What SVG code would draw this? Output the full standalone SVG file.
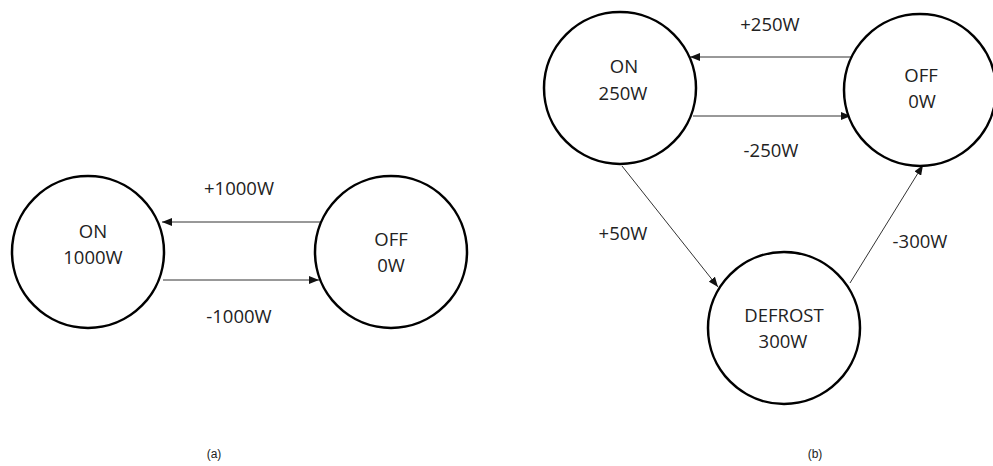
<svg xmlns="http://www.w3.org/2000/svg" width="993" height="466" viewBox="0 0 993 466">
<defs>
<style>
.node{fill:#fff;stroke:#000;stroke-width:2.5}
.t{font-family:"Open Sans","Liberation Sans",sans-serif;font-size:18.5px;fill:#222;text-anchor:middle}
.cap{font-family:"Liberation Sans Narrow","Liberation Sans",sans-serif;font-size:12px;fill:#222;text-anchor:middle}
.edge{stroke:#333;stroke-width:1;fill:none;marker-end:url(#ah)}
</style>
<marker id="ah" markerUnits="userSpaceOnUse" markerWidth="10" markerHeight="8" refX="10" refY="4" orient="auto">
<path d="M0,0 L10,4 L0,8 z" fill="#111"/>
</marker>
</defs>
<rect width="993" height="466" fill="#fff"/>
<g id="connectors">
<line class="edge" x1="321" y1="222" x2="162" y2="222"/>
<line class="edge" x1="163" y1="280" x2="319" y2="280"/>
<line class="edge" x1="852" y1="57" x2="690" y2="57"/>
<line class="edge" x1="693" y1="116" x2="851" y2="116"/>
<line class="edge" x1="622" y1="166" x2="718" y2="287"/>
<line class="edge" x1="850" y1="283" x2="923" y2="165"/>
</g>
<g id="edge-labels">
<text class="t" x="239" y="195">+1000W</text>
<text class="t" x="239" y="323">-1000W</text>
<text class="t" x="770" y="31">+250W</text>
<text class="t" x="771" y="157">-250W</text>
<text class="t" x="623" y="240">+50W</text>
<text class="t" x="920" y="248">-300W</text>
</g>
<g id="a-on">
<circle class="node" cx="88" cy="252" r="76"/>
<text class="t" x="93" y="238">ON</text>
<text class="t" x="93" y="264">1000W</text>
</g>
<g id="a-off">
<circle class="node" cx="391" cy="252" r="76"/>
<text class="t" x="391" y="246">OFF</text>
<text class="t" x="391" y="272">0W</text>
</g>
<g id="b-on">
<circle class="node" cx="620" cy="88" r="76"/>
<text class="t" x="624" y="73">ON</text>
<text class="t" x="623" y="100">250W</text>
</g>
<g id="b-off">
<circle class="node" cx="920" cy="90" r="76"/>
<text class="t" x="921" y="82">OFF</text>
<text class="t" x="922" y="108">0W</text>
</g>
<g id="b-defrost">
<circle class="node" cx="784" cy="328" r="76"/>
<text class="t" x="784" y="322">DEFROST</text>
<text class="t" x="783" y="348">300W</text>
</g>
<text class="cap" x="214" y="458">(a)</text>
<text class="cap" x="815" y="458">(b)</text>
</svg>
